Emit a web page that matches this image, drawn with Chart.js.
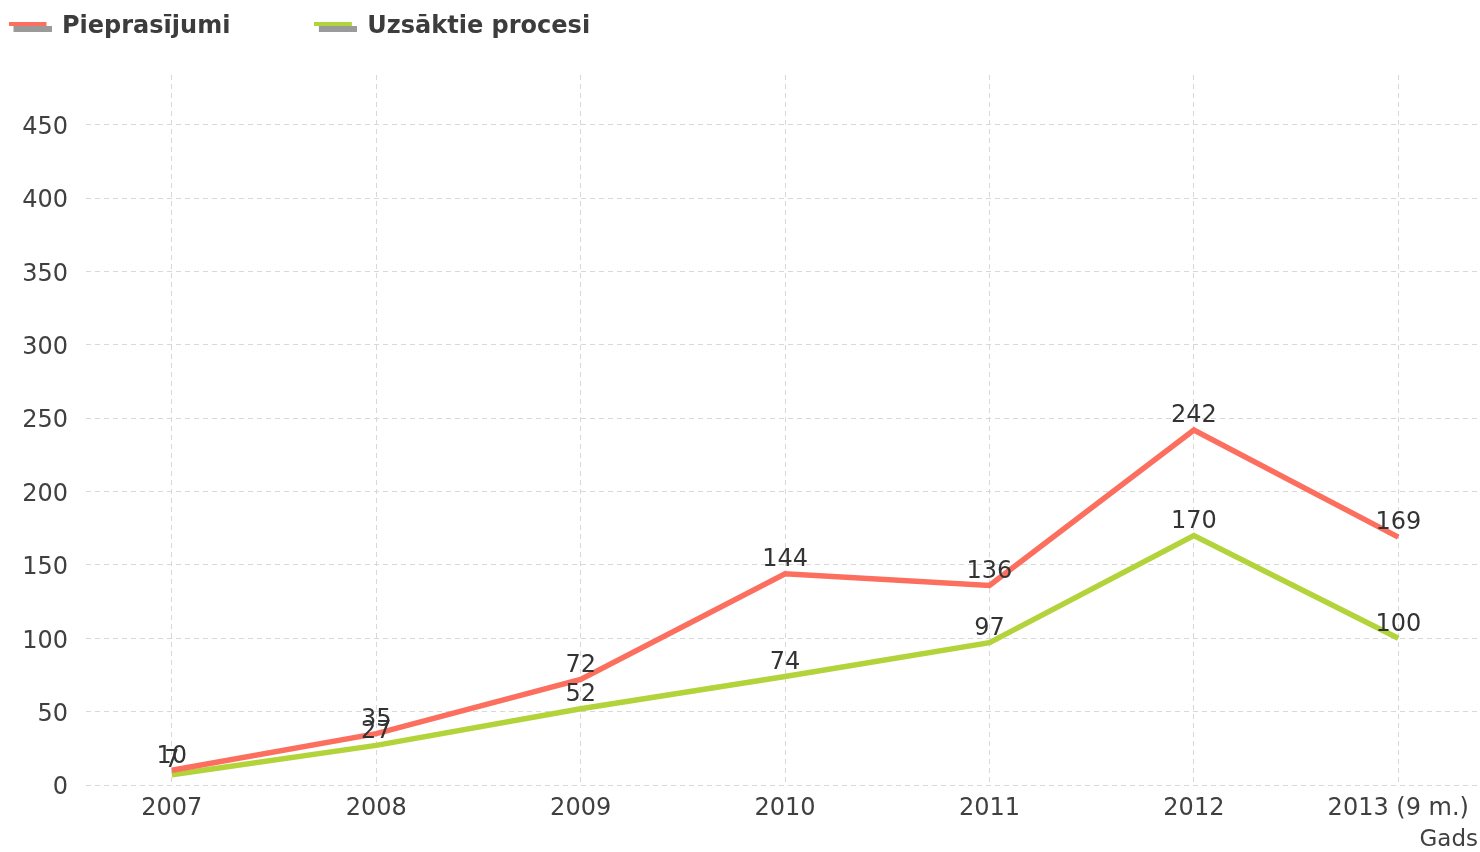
<!DOCTYPE html>
<html><head><meta charset="utf-8">
<script src="https://cdn.jsdelivr.net/npm/chart.js@4.4.0/dist/chart.umd.min.js"></script>
<style>html,body{margin:0;padding:0;background:#fff}#wrap{width:1480px;height:852px}</style>
</head><body><div id="wrap"><canvas id="c" width="1480" height="852"></canvas></div>
<script>
const categories = ['2007', '2008', '2009', '2010', '2011', '2012', '2013 (9 m.)'];
const pieprasijumi = [10, 35, 72, 144, 136, 242, 169];
const uzsaktieProcesi = [7, 27, 52, 74, 97, 170, 100];
const yTickValues = [0, 50, 100, 150, 200, 250, 300, 350, 400, 450];
const seriesNames = ['Pieprasījumi', 'Uzsāktie procesi'];
const xAxisTitle = 'Gads';

const RED = '#fc6f5f';
const GREEN = '#b3d33a';
const FONT = '"DejaVu Sans", Verdana, sans-serif';

function legendMarker(color) {
  const c = document.createElement('canvas');
  c.width = 43; c.height = 10;
  const g = c.getContext('2d');
  g.fillStyle = '#9a9a9a';
  g.fillRect(5, 4, 38, 6);
  g.fillStyle = color;
  g.fillRect(0, 0, 38, 4);
  return c;
}

const legendFix = {
  id: 'legendFix',
  beforeLayout(chart) {
    const lg = chart.legend;
    if (lg && !lg._fixedFit) {
      lg._fixedFit = true;
      const f = lg.fit;
      lg.fit = function () { f.call(this); this.height = 75; };
    }
  },
  afterLayout(chart) {
    const lg = chart.legend;
    if (lg) { lg.left = -75; lg.top = -70; }
  }
};

const valueLabels = {
  id: 'valueLabels',
  afterDatasetsDraw(chart) {
    const ctx = chart.ctx;
    ctx.save();
    ctx.font = '24px ' + FONT;
    ctx.fillStyle = '#333333';
    ctx.textAlign = 'center';
    ctx.textBaseline = 'middle';
    chart.data.datasets.forEach((ds, di) => {
      const meta = chart.getDatasetMeta(di);
      meta.data.forEach((pt, i) => {
        ctx.fillText(String(ds.data[i].y), pt.x, pt.y - 14);
      });
    });
    ctx.restore();
  }
};

const toPoints = arr => arr.map((v, i) => ({ x: i, y: v }));

new Chart(document.getElementById('c'), {
  type: 'line',
  data: {
    datasets: [
      { label: seriesNames[0], data: toPoints(pieprasijumi), borderColor: RED, backgroundColor: RED,
        borderWidth: 5.5, pointRadius: 0, tension: 0, pointStyle: legendMarker(RED) },
      { label: seriesNames[1], data: toPoints(uzsaktieProcesi), borderColor: GREEN, backgroundColor: GREEN,
        borderWidth: 5.5, pointRadius: 0, tension: 0, pointStyle: legendMarker(GREEN) }
    ]
  },
  options: {
    responsive: false,
    animation: false,
    layout: { padding: { left: 0, right: 2, top: 0, bottom: 0 } },
    plugins: {
      legend: {
        display: true, position: 'top', align: 'start',
        labels: {
          usePointStyle: true, pointStyleWidth: 40, padding: 85,
          color: '#3c3c3c', font: { family: FONT, size: 24, weight: 'bold' }
        }
      },
      tooltip: { enabled: false }
    },
    scales: {
      x: {
        type: 'linear', min: -0.42, max: 6.39,
        afterBuildTicks: s => { s.ticks = categories.map((_, i) => ({ value: i })); },
        afterFit: s => { s.height = 67; },
        grid: { color: '#d8d8d8', lineWidth: 1, drawTicks: false },
        border: { display: false, dash: [5, 4] },
        ticks: { autoSkip: false, maxRotation: 0, padding: 9, color: '#404040',
          font: { family: FONT, size: 24 }, callback: v => categories[v] },
        title: { display: true, text: xAxisTitle, align: 'end', color: '#404040',
          font: { family: FONT, size: 23, lineHeight: 1 }, padding: { top: 0, bottom: 0 } }
      },
      y: {
        min: 0, max: 484,
        afterBuildTicks: s => { s.ticks = yTickValues.map(v => ({ value: v })); },
        afterFit: s => { s.width = 86; },
        grid: { color: '#d8d8d8', lineWidth: 1, drawTicks: false },
        border: { display: false, dash: [5, 4] },
        ticks: { padding: 18, labelOffset: 3, color: '#404040', font: { family: FONT, size: 24 } }
      }
    }
  },
  plugins: [legendFix, valueLabels]
});
</script></body></html>
